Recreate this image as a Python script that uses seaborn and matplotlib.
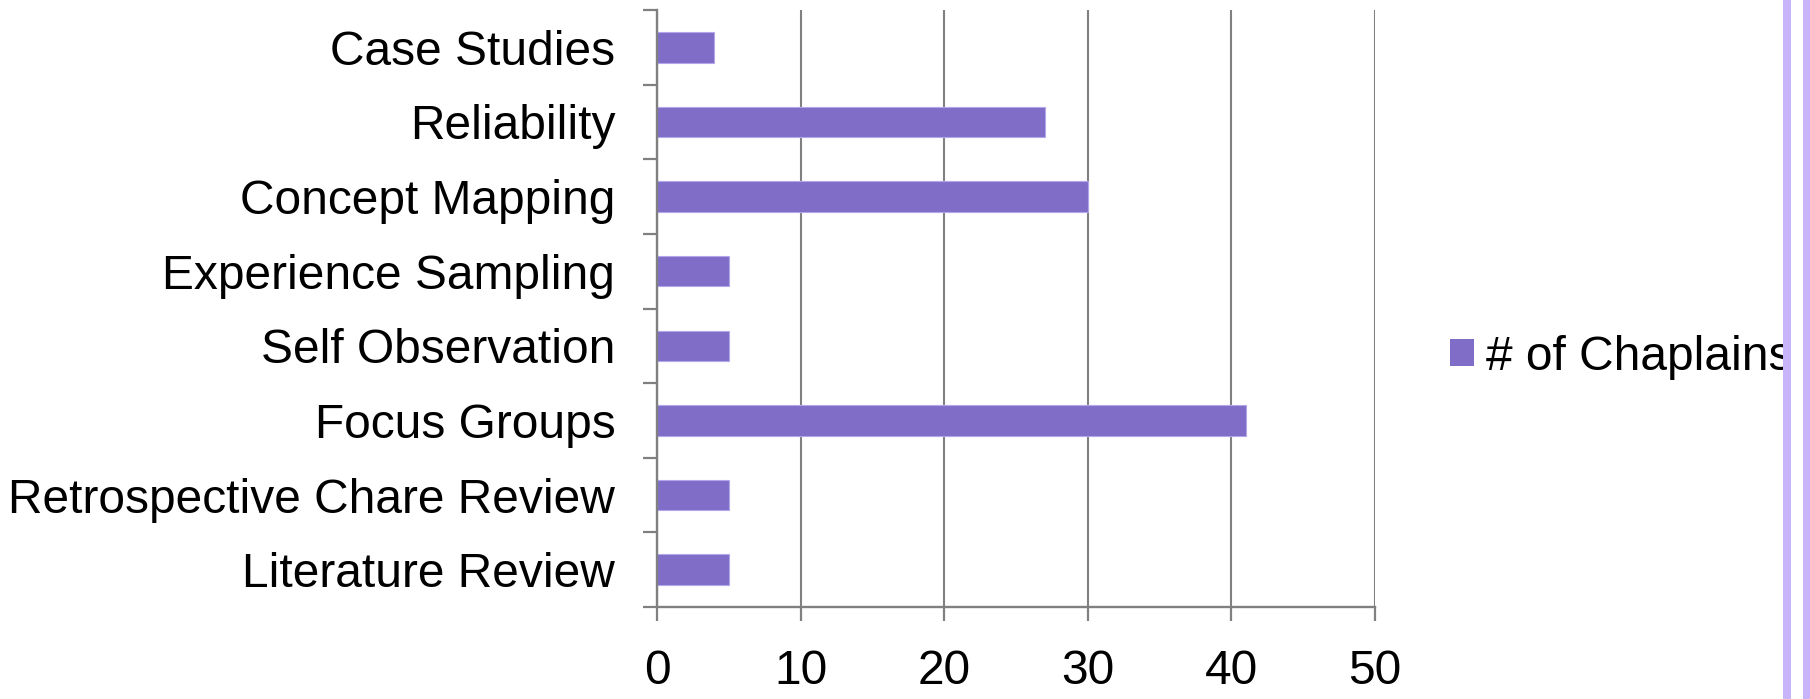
import matplotlib
matplotlib.use("Agg")
import matplotlib.pyplot as plt
import matplotlib.patches as mpatches
import seaborn as sns
import pandas as pd

categories = ["Case Studies", "Reliability", "Concept Mapping", "Experience Sampling",
              "Self Observation", "Focus Groups", "Retrospective Chare Review", "Literature Review"]
chaplains = [4, 27, 30, 5, 5, 41, 5, 5]
x_ticks = [0, 10, 20, 30, 40, 50]
series_name = "# of Chaplains"

BAR = "#7F6DC8"
GRAY = "#808080"
LAV = "#C8B4FA"

sns.set_style("white")
plt.rcParams["font.family"] = ["Liberation Sans", "DejaVu Sans"]
plt.rcParams["text.color"] = "black"
plt.rcParams["xtick.labelcolor"] = "black"
plt.rcParams["ytick.labelcolor"] = "black"

W, H = 1810, 699
fig = plt.figure(figsize=(W / 100, H / 100), dpi=100)
ax = fig.add_axes([657 / W, (H - 607) / H, (1375 - 657) / W, (607 - 10) / H])

df = pd.DataFrame({"cat": categories, "val": chaplains})
sns.barplot(data=df, x="val", y="cat", orient="h", color=BAR, saturation=1,
            width=0.41, edgecolor="#B4A6EA", linewidth=0.8, ax=ax)

n = len(categories)
ax.set_xlim(0, 50)
ax.set_ylim(n - 0.5, -0.5)
ax.set_xlabel("")
ax.set_ylabel("")

fs = 34.5
# y: boundary ticks as major, labels as minor
ax.set_yticks([i - 0.5 for i in range(n + 1)])
ax.set_yticklabels([])
ax.set_yticks(list(range(n)), minor=True)
ax.set_yticklabels(categories, minor=True, fontsize=fs, color="black")
ax.tick_params(axis="y", which="major", length=10, width=1.6, color=GRAY, direction="out", left=True)
ax.tick_params(axis="y", which="minor", length=0, pad=30)

ax.set_xticks(x_ticks)
ax.set_xticklabels([str(t) for t in x_ticks], fontsize=fs, color="black")
ax.tick_params(axis="x", which="major", length=10, width=1.6, color=GRAY, direction="out",
               bottom=True, pad=20)

ax.set_axisbelow(True)
ax.xaxis.grid(True, color=GRAY, linewidth=1.5)
ax.yaxis.grid(False)
for s in ["top", "right"]:
    ax.spines[s].set_visible(False)
for s in ["left", "bottom"]:
    ax.spines[s].set_color(GRAY)
    ax.spines[s].set_linewidth(1.7)

handle = mpatches.Patch(facecolor=BAR, edgecolor="none")
leg = ax.legend([handle], [series_name], loc="center left",
                bbox_to_anchor=(1450 / W, 1 - 357 / H), bbox_transform=fig.transFigure,
                frameon=False, fontsize=fs, handlelength=0.5, handleheight=0.5,
                handletextpad=0.25, borderpad=0, borderaxespad=0)
for t in leg.get_texts():
    t.set_color("black")

for x0, x1 in [(1783, 1791), (1803, 1810)]:
    fig.add_artist(mpatches.Rectangle((x0 / W, 0), (x1 - x0) / W, 1,
                                      transform=fig.transFigure, facecolor=LAV,
                                      edgecolor="none", zorder=10))

fig.savefig("out.png", dpi=100, facecolor="white")
